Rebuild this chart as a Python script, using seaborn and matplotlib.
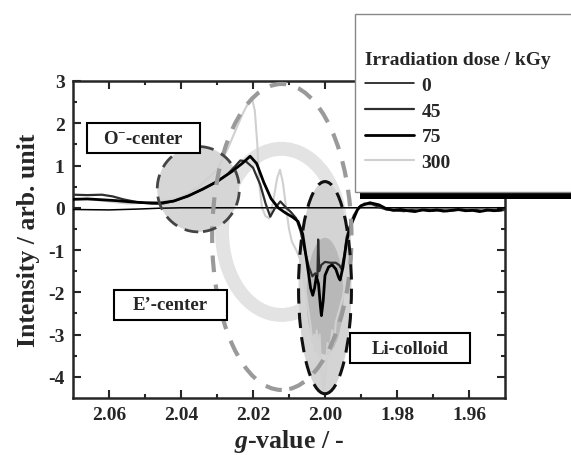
import matplotlib
matplotlib.use("Agg")
import matplotlib.pyplot as plt
from matplotlib.patches import Ellipse, Rectangle
import seaborn as sns

# --- values ---
doses = ["0", "45", "75", "300"]

g_0 = [2.070, 2.060, 2.052, 2.046, 2.040, 2.020, 2.000, 1.980, 1.960, 1.950]
int_0 = [-0.04, -0.05, -0.03, -0.01, 0.0, 0.0, 0.0, 0.0, 0.0, 0.0]

g_45 = [2.070, 2.066, 2.062, 2.059, 2.056, 2.052, 2.048, 2.045, 2.042, 2.038, 2.034,
        2.030, 2.027, 2.025, 2.0235, 2.022, 2.020, 2.018, 2.0165, 2.0152, 2.014,
        2.0124, 2.011, 2.0095, 2.008, 2.0068, 2.0055, 2.0045, 2.0035, 2.0027,
        2.0021, 2.0019, 2.0016, 2.0010, 2.0000, 1.9985, 1.9970, 1.9960, 1.9954,
        1.9946, 1.9940, 1.9930, 1.9920, 1.9905, 1.9890, 1.9870, 1.9850, 1.9830,
        1.9810, 1.978, 1.976, 1.974, 1.972, 1.970, 1.968, 1.966, 1.964, 1.962,
        1.960, 1.958, 1.956, 1.954, 1.952, 1.950]
int_45 = [0.31, 0.30, 0.31, 0.27, 0.20, 0.13, 0.10, 0.10, 0.16, 0.28, 0.44,
          0.62, 0.80, 0.98, 1.12, 1.10, 0.95, 0.55, 0.10, -0.21, -0.02,
          0.15, 0.02, -0.10, -0.25, -0.55, -1.05, -1.40, -1.62, -1.55,
          -1.62, -0.75, -1.50, -1.35, -1.28, -1.30, -1.30, -1.36, -1.45,
          -1.10, -0.70, -0.40, -0.18, 0.02, 0.10, 0.09, 0.02, -0.04,
          -0.06, -0.08, -0.05, -0.07, -0.04, -0.07, -0.05, -0.08, -0.06, -0.04,
          -0.07, -0.05, -0.08, -0.05, -0.07, -0.05]

g_75 = [2.070, 2.066, 2.062, 2.058, 2.054, 2.050, 2.046, 2.042, 2.038, 2.034,
        2.030, 2.026, 2.023, 2.0208, 2.019, 2.017, 2.015, 2.013, 2.011, 2.009,
        2.0075, 2.0062, 2.0050, 2.0040, 2.0034, 2.0029, 2.0024, 2.0018, 2.0013,
        2.0010, 2.0005, 2.0000, 1.9990, 1.9980, 1.9970, 1.9962, 1.9958, 1.9950,
        1.9940, 1.9930, 1.9920, 1.9910, 1.9900, 1.9875, 1.9850, 1.9830, 1.9810,
        1.979, 1.977, 1.975, 1.973, 1.971, 1.969, 1.967, 1.965, 1.963, 1.961,
        1.959, 1.957, 1.955, 1.953, 1.951]
int_75 = [0.20, 0.21, 0.19, 0.17, 0.14, 0.12, 0.11, 0.16, 0.28, 0.44,
          0.62, 0.85, 1.05, 1.22, 1.05, 0.60, 0.22, 0.00, -0.12, -0.22,
          -0.32, -0.62, -1.30, -1.90, -2.07, -1.90, -1.62, -1.80, -2.30,
          -2.55, -2.20, -1.60, -1.40, -1.35, -1.45, -1.65, -1.71, -1.40,
          -0.80, -0.45, -0.25, -0.05, 0.05, 0.12, 0.07, -0.02, -0.06,
          -0.04, -0.07, -0.09, -0.05, -0.07, -0.05, -0.08, -0.06, -0.04, -0.07,
          -0.06, -0.09, -0.05, -0.07, -0.05]

g_300 = [2.070, 2.065, 2.060, 2.055, 2.050, 2.045, 2.040, 2.035, 2.030, 2.027,
         2.025, 2.023, 2.0215, 2.0203, 2.0195, 2.0188, 2.0183, 2.0175, 2.0165,
         2.0155, 2.0145, 2.0133, 2.0125, 2.0117, 2.0108, 2.0100, 2.0092, 2.0080,
         2.0070, 2.0060, 2.0050, 2.0040, 2.0035, 2.0030, 2.0027, 2.0023, 2.0020,
         2.0015, 2.0012, 2.0008, 2.0003, 1.9998, 1.9993, 1.9988, 1.9980, 1.9975,
         1.9970, 1.9960, 1.9950, 1.9940, 1.9930, 1.9920, 1.9910, 1.9890, 1.9870,
         1.9850, 1.9820, 1.978, 1.974, 1.970, 1.966, 1.962, 1.958, 1.954, 1.950]
int_300 = [0.22, 0.20, 0.15, 0.10, 0.12, 0.15, 0.25, 0.50, 0.90, 1.40,
           1.80, 2.20, 2.45, 2.60, 2.30, 1.50, 0.60, 0.00, -0.20,
           -0.25, 0.10, 0.70, 0.90, 0.60, 0.00, -0.50, -0.80, -1.00,
           -1.20, -1.60, -2.20, -2.80, -3.20, -3.00, -3.40, -2.90, -3.50,
           -3.00, -3.60, -4.00, -4.30, -3.80, -3.20, -3.50, -2.90, -3.20,
           -2.70, -2.40, -2.10, -1.50, -0.60, -0.20, 0.00, 0.05, 0.05,
           0.00, -0.05, -0.06, -0.04, -0.07, -0.05, -0.06, -0.04, -0.06, -0.05]

# region markers (center g, center intensity, width, height)
o_center = (2.0352, 0.44, 0.0228, 2.02)
e_center = (2.0120, -0.69, 0.0387, 7.24)
e_ring = (2.0121, -0.57, 0.0330, 3.93)
li_colloid = (2.0000, -1.89, 0.0147, 5.02)

# --- style ---
sns.set_style("ticks")
plt.rcParams["font.family"] = ["Liberation Serif", "DejaVu Serif"]
plt.rcParams["font.weight"] = "bold"
plt.rcParams["axes.unicode_minus"] = False
plt.rcParams["mathtext.fontset"] = "custom"
plt.rcParams["mathtext.rm"] = "Liberation Serif:bold"
plt.rcParams["mathtext.bf"] = "Liberation Serif:bold"
plt.rcParams["mathtext.it"] = "Liberation Serif:italic:bold"

fig = plt.figure(figsize=(5.71, 4.56), dpi=100)
ax = fig.add_axes([73 / 571, 1 - 399 / 456, 432 / 571, 317 / 456])

# background shading for the regions
cx, cy, w, h = e_ring
ax.add_patch(Ellipse((cx, cy), w, h, fill=False, ec="#e3e3e3", lw=10, zorder=1))
cx, cy, w, h = o_center
ax.add_patch(Ellipse((cx, cy), w, h, fc="#d6d6d6", ec="none", zorder=1.5))
cx, cy, w, h = li_colloid
ax.add_patch(Ellipse((cx, cy), w, h, fc="#d4d4d4", ec="none", zorder=1.5))
ax.add_patch(Ellipse((cx, cy - 0.2), w * 0.7, h * 0.55, fc="#b8b8b8", ec="none", zorder=1.6))

# spectra
sns.lineplot(x=g_300, y=int_300, ax=ax, color="#d0d0d0", lw=1.5, label=doses[3],
             estimator=None, sort=False, zorder=2)
sns.lineplot(x=g_0, y=int_0, ax=ax, color="black", lw=1.1, label=doses[0],
             estimator=None, sort=False, zorder=3)
sns.lineplot(x=g_45, y=int_45, ax=ax, color="#2e2e2e", lw=1.6, label=doses[1],
             estimator=None, sort=False, zorder=3)
sns.lineplot(x=g_75, y=int_75, ax=ax, color="black", lw=2.0, label=doses[2],
             estimator=None, sort=False, zorder=3)

# dashed outlines
cx, cy, w, h = e_center
ax.add_patch(Ellipse((cx, cy), w, h, fill=False, ec="#9a9a9a", lw=3.0,
                     ls=(0, (4, 3)), zorder=4))
cx, cy, w, h = o_center
ax.add_patch(Ellipse((cx, cy), w, h, fill=False, ec="#444444", lw=2.0,
                     ls=(0, (5, 3)), zorder=4))
cx, cy, w, h = li_colloid
ax.add_patch(Ellipse((cx, cy), w, h, fill=False, ec="#111111", lw=2.2,
                     ls=(0, (5, 3)), zorder=4))

# labelled boxes
boxes = [("O$^{-}$-center", 87, 124), ("E\u2019-center", 114, 291), ("Li-colloid", 350, 334)]
for txt, px, py in boxes:
    bw = 113 if txt != "Li-colloid" else 120
    x0 = (px - 73) / 432
    y0 = 1 - (py + 30 - 82) / 317
    ax.add_patch(Rectangle((x0, y0), bw / 432, 30 / 317, transform=ax.transAxes,
                           fc="white", ec="black", lw=1.5, zorder=5))
    ax.text(x0 + bw / 432 / 2, y0 + 15 / 317, txt, transform=ax.transAxes,
            ha="center", va="center", fontsize=13.5, fontweight="bold", zorder=6)

ax.set_xlim(2.07, 1.95)
ax.set_ylim(-4.5, 3)
ax.set_xticks([2.06, 2.04, 2.02, 2.00, 1.98, 1.96])
ax.set_xticks([2.05, 2.03, 2.01, 1.99, 1.97], minor=True)
ax.set_xticklabels(["2.06", "2.04", "2.02", "2.00", "1.98", "1.96"])
ax.set_yticks([3, 2, 1, 0, -1, -2, -3, -4])
ax.set_yticks([2.5, 1.5, 0.5, -0.5, -1.5, -2.5, -3.5], minor=True)
ax.tick_params(which="both", direction="in", top=True, right=True, width=1.5,
               labelsize=14, pad=6)
ax.tick_params(which="major", length=6)
ax.tick_params(which="minor", length=3)
for s in ax.spines.values():
    s.set_linewidth(1.8)

ax.set_xlabel(r"$\mathit{g}$-value / -", fontsize=18.5, fontweight="bold", labelpad=3)
ax.set_ylabel("Intensity / arb. unit", fontsize=18.5, fontweight="bold", labelpad=6)

# legend box overlapping the top right corner
handles, labels = ax.get_legend_handles_labels()
if ax.get_legend() is not None:
    ax.get_legend().remove()
order = [labels.index(d) for d in doses]
handles = [handles[i] for i in order]
labels = [labels[i] for i in order]

shadow = Rectangle((360 / 571, 1 - 200 / 456), 0.45, 0.39, transform=fig.transFigure,
                   fc="black", ec="none", zorder=7)
frame = Rectangle((355 / 571, 1 - 193 / 456), 0.45, 178 / 456, transform=fig.transFigure,
                  fc="white", ec="#888888", lw=1.0, zorder=8)
fig.add_artist(shadow)
fig.add_artist(frame)
leg = fig.legend(handles, labels, title="Irradiation dose / kGy", loc="upper left",
                 bbox_to_anchor=(365 / 571, 1 - 52 / 456), frameon=False,
                 fontsize=14, title_fontsize=14, alignment="left",
                 handlelength=2.5, handletextpad=0.4, labelspacing=0.42,
                 borderpad=0, borderaxespad=0)
leg.get_title().set_fontweight("bold")
leg.set_zorder(10)

fig.savefig("out.png", dpi=100)
